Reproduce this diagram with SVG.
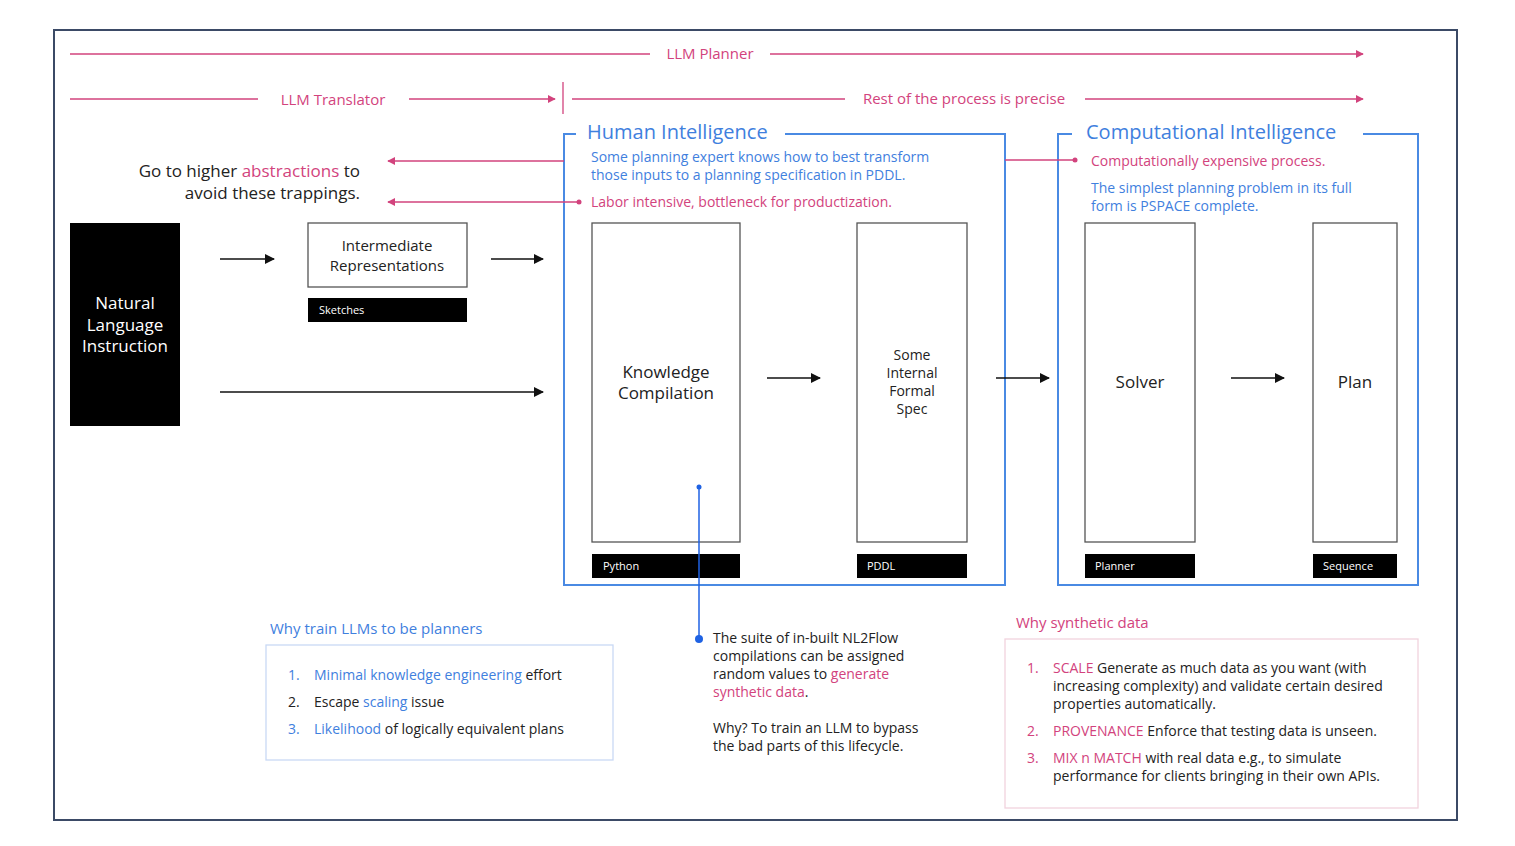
<svg xmlns="http://www.w3.org/2000/svg" width="1515" height="846" viewBox="0 0 1515 846">
<defs>
<style>
text{font-family:"Open Sans","Noto Sans",sans-serif;}
.pk{fill:#d2437d;}
.bl{fill:#3f80de;}
.dk{fill:#222;}
.pl{stroke:#d2437d;stroke-width:1.3;fill:none;}
.al{stroke:#111;stroke-width:1.5;fill:none;}
.box{fill:#fff;stroke:#555;stroke-width:1.3;}
.bar{fill:#000;}
.bt{fill:#fff;font-size:11px;}
.grp{fill:none;stroke:#4a8ae3;stroke-width:2;}
.ttl{fill:#3f80de;font-size:20px;}
.sm{font-size:14px;}
</style>
<marker id="ab" viewBox="0 0 10 10" refX="9" refY="5" markerWidth="10" markerHeight="10" markerUnits="userSpaceOnUse" orient="auto"><path d="M0,0 L10,5 L0,10 z" fill="#111"/></marker>
<marker id="ap" viewBox="0 0 10 10" refX="9" refY="5" markerWidth="8" markerHeight="8" markerUnits="userSpaceOnUse" orient="auto"><path d="M0,0 L10,5 L0,10 z" fill="#d2437d"/></marker>
</defs>
<rect width="1515" height="846" fill="#fff"/>
<rect x="54" y="30" width="1403" height="790" fill="none" stroke="#3b4a66" stroke-width="2"/>

<g id="labels-top">
<text class="pk" x="710" y="59" font-size="15" text-anchor="middle">LLM Planner</text>
<text class="pk" x="333" y="105" font-size="15" text-anchor="middle">LLM Translator</text>
<text class="pk" x="964" y="104" font-size="15" text-anchor="middle">Rest of the process is precise</text>
</g>

<g id="abstractions">
<text class="dk" x="360" y="177" font-size="17" text-anchor="end">Go to higher <tspan class="pk">abstractions</tspan> to</text>
<text class="dk" x="360" y="199" font-size="17" text-anchor="end">avoid these trappings.</text>
</g>

<g id="human-intelligence">
<path class="grp" d="M576,134 H564 V585 H1005 V134 H785"/>
<text class="ttl" x="587" y="139">Human Intelligence</text>
<text class="bl sm" x="591" y="162">Some planning expert knows how to best transform</text>
<text class="bl sm" x="591" y="180">those inputs to a planning specification in PDDL.</text>
<text class="pk sm" x="591" y="207">Labor intensive, bottleneck for productization.</text>
</g>

<g id="computational-intelligence">
<path class="grp" d="M1072,134 H1058 V585 H1418 V134 H1363"/>
<text class="ttl" x="1086" y="139">Computational Intelligence</text>
<text class="pk sm" x="1091" y="166">Computationally expensive process.</text>
<text class="bl sm" x="1091" y="193">The simplest planning problem in its full</text>
<text class="bl sm" x="1091" y="211">form is PSPACE complete.</text>
</g>

<g id="natural-language">
<rect x="70" y="223" width="110" height="203" fill="#000"/>
<text fill="#fff" font-size="17" text-anchor="middle" x="125" y="309">Natural</text>
<text fill="#fff" font-size="17" text-anchor="middle" x="125" y="331">Language</text>
<text fill="#fff" font-size="17" text-anchor="middle" x="125" y="352">Instruction</text>
</g>

<g id="intermediate">
<rect class="box" x="308" y="223" width="159" height="64"/>
<text class="dk" font-size="15" text-anchor="middle" x="387" y="251">Intermediate</text>
<text class="dk" font-size="15" text-anchor="middle" x="387" y="271">Representations</text>
<rect class="bar" x="308" y="298" width="159" height="24"/>
<text class="bt" x="319" y="314">Sketches</text>
</g>

<g id="knowledge-compilation">
<rect class="box" x="592" y="223" width="148" height="319"/>
<text class="dk" font-size="17" text-anchor="middle" x="666" y="378">Knowledge</text>
<text class="dk" font-size="17" text-anchor="middle" x="666" y="399">Compilation</text>
<rect class="bar" x="592" y="554" width="148" height="24"/>
<text class="bt" x="603" y="570">Python</text>
</g>

<g id="formal-spec">
<rect class="box" x="857" y="223" width="110" height="319"/>
<text class="dk sm" text-anchor="middle" x="912" y="360">Some</text>
<text class="dk sm" text-anchor="middle" x="912" y="378">Internal</text>
<text class="dk sm" text-anchor="middle" x="912" y="396">Formal</text>
<text class="dk sm" text-anchor="middle" x="912" y="414">Spec</text>
<rect class="bar" x="857" y="554" width="110" height="24"/>
<text class="bt" x="867" y="570">PDDL</text>
</g>

<g id="solver">
<rect class="box" x="1085" y="223" width="110" height="319"/>
<text class="dk" font-size="17" text-anchor="middle" x="1140" y="388">Solver</text>
<rect class="bar" x="1085" y="554" width="110" height="24"/>
<text class="bt" x="1095" y="570">Planner</text>
</g>

<g id="plan">
<rect class="box" x="1313" y="223" width="84" height="319"/>
<text class="dk" font-size="17" text-anchor="middle" x="1355" y="388">Plan</text>
<rect class="bar" x="1313" y="554" width="84" height="24"/>
<text class="bt" x="1323" y="570">Sequence</text>
</g>

<g id="nl2flow-note">
<text class="dk sm" x="713" y="643">The suite of in-built NL2Flow</text>
<text class="dk sm" x="713" y="661">compilations can be assigned</text>
<text class="dk sm" x="713" y="679">random values to <tspan class="pk">generate</tspan></text>
<text class="dk sm" x="713" y="697"><tspan class="pk">synthetic data</tspan>.</text>
<text class="dk sm" x="713" y="733">Why? To train an LLM to bypass</text>
<text class="dk sm" x="713" y="751">the bad parts of this lifecycle.</text>
</g>

<g id="why-train">
<text class="bl" font-size="15" x="270" y="634">Why train LLMs to be planners</text>
<rect x="266" y="645" width="347" height="115" fill="none" stroke="#c9d9f5" stroke-width="1.3"/>
<text class="bl sm" x="288" y="680">1.</text>
<text class="sm" x="314" y="680"><tspan class="bl">Minimal knowledge engineering</tspan><tspan class="dk"> effort</tspan></text>
<text class="dk sm" x="288" y="707">2.</text>
<text class="sm dk" x="314" y="707">Escape <tspan class="bl">scaling</tspan> issue</text>
<text class="bl sm" x="288" y="734">3.</text>
<text class="sm" x="314" y="734"><tspan class="bl">Likelihood</tspan><tspan class="dk"> of logically equivalent plans</tspan></text>
</g>

<g id="why-synthetic">
<text class="pk" font-size="15" x="1016" y="628">Why synthetic data</text>
<rect x="1005" y="639" width="413" height="169" fill="none" stroke="#f1d3de" stroke-width="1.3"/>
<text class="pk sm" x="1027" y="673">1.</text>
<text class="sm dk" x="1053" y="673"><tspan class="pk">SCALE</tspan> Generate as much data as you want (with</text>
<text class="sm dk" x="1053" y="691">increasing complexity) and validate certain desired</text>
<text class="sm dk" x="1053" y="709">properties automatically.</text>
<text class="pk sm" x="1027" y="736">2.</text>
<text class="sm dk" x="1053" y="736"><tspan class="pk">PROVENANCE</tspan> Enforce that testing data is unseen.</text>
<text class="pk sm" x="1027" y="763">3.</text>
<text class="sm dk" x="1053" y="763"><tspan class="pk">MIX n MATCH</tspan> with real data e.g., to simulate</text>
<text class="sm dk" x="1053" y="781">performance for clients bringing in their own APIs.</text>
</g>

<g id="connectors">
<line class="pl" x1="70" y1="54" x2="650" y2="54"/>
<line class="pl" x1="770" y1="54" x2="1363" y2="54" marker-end="url(#ap)"/>
<line class="pl" x1="70" y1="99" x2="258" y2="99"/>
<line class="pl" x1="409" y1="99" x2="555" y2="99" marker-end="url(#ap)"/>
<line class="pl" x1="563" y1="82" x2="563" y2="114"/>
<line class="pl" x1="572" y1="99" x2="845" y2="99"/>
<line class="pl" x1="1085" y1="99" x2="1363" y2="99" marker-end="url(#ap)"/>
<line class="pl" x1="564" y1="161" x2="388" y2="161" marker-end="url(#ap)"/>
<line class="pl" x1="579" y1="202" x2="388" y2="202" marker-end="url(#ap)"/>
<circle cx="579" cy="202" r="2.5" fill="#d2437d"/>
<line class="pl" x1="1005" y1="160" x2="1075" y2="160"/>
<circle cx="1075" cy="160" r="2.5" fill="#d2437d"/>
<line class="al" x1="220" y1="259" x2="274" y2="259" marker-end="url(#ab)"/>
<line class="al" x1="491" y1="259" x2="543" y2="259" marker-end="url(#ab)"/>
<line class="al" x1="220" y1="392" x2="543" y2="392" marker-end="url(#ab)"/>
<line class="al" x1="767" y1="378" x2="820" y2="378" marker-end="url(#ab)"/>
<line class="al" x1="996" y1="378" x2="1049" y2="378" marker-end="url(#ab)"/>
<line class="al" x1="1231" y1="378" x2="1284" y2="378" marker-end="url(#ab)"/>
<line x1="699" y1="487" x2="699" y2="639" stroke="#1f62e3" stroke-width="1.5"/>
<circle cx="699" cy="487" r="2.5" fill="#1f62e3"/>
<circle cx="699" cy="639" r="4" fill="#1f62e3"/>
</g>
</svg>
